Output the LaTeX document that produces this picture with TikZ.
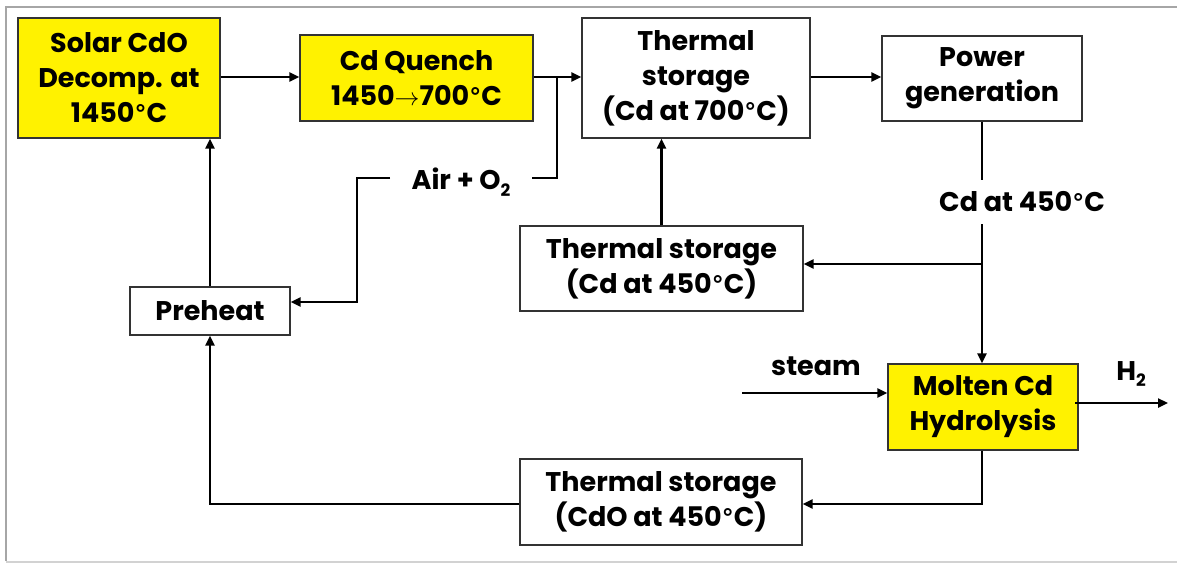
\documentclass[tikz,border=0pt]{standalone}
\usepackage{fontspec}
\setmainfont{Poppins}
\newfontfamily\dvfont{DejaVu Sans}
\usetikzlibrary{arrows.meta}
\newcommand{\lowsub}[1]{\raisebox{-0.45ex}{\fontsize{17}{17}\selectfont #1}}
\newcommand{\dgC}{{\dvfont\fontsize{24}{24}\selectfont °}C}
\begin{document}
\begin{tikzpicture}[x=1pt,y=-1pt,
  box/.style={draw=black!80,line width=1.2pt,inner sep=0pt,align=center,
    font=\fontsize{27}{35}\selectfont\bfseries},
  ybox/.style={box,fill=yellow},
  lbl/.style={inner sep=0pt,font=\fontsize{27}{35}\selectfont\bfseries},
  arr/.style={line width=2.3pt,-{Triangle[length=10pt,width=9pt]}},
  ln/.style={line width=2.3pt}]
\useasboundingbox (0,0) rectangle (1177,563);
\draw[gray!70,line width=2.5pt] (1177,7) -- (6,7) -- (6,561);
\draw[gray!35,line width=1.5pt] (6,562) -- (1177,562);
% boxes
\node[ybox,minimum width=202pt,minimum height=120pt] (solar) at (119,78) {Solar CdO\\Decomp. at\\1450\dgC};
\node[ybox,minimum width=233pt,minimum height=86pt] (quench) at (416.5,78) {Cd Quench\\1450$\rightarrow$700\dgC};
\node[box,minimum width=228pt,minimum height=120pt] (ts7) at (696,78) {Thermal\\storage\\(Cd at 700\dgC)};
\node[box,minimum width=200pt,minimum height=85pt] (power) at (982,78.5) {Power\\generation};
\node[box,minimum width=283pt,minimum height=85pt] (ts4) at (661.5,268.5) {Thermal storage\\(Cd at 450\dgC)};
\node[box,minimum width=160pt,minimum height=48pt] (pre) at (210,311) {Preheat};
\node[ybox,minimum width=190pt,minimum height=86pt] (molten) at (983,407) {Molten Cd\\Hydrolysis};
\node[box,minimum width=282pt,minimum height=86pt] (ts5) at (661,502) {Thermal storage\\(CdO at 450\dgC)};
% labels
\node[lbl] (air) at (461,182) {Air + O\lowsub{2}};
\node[lbl] (cd450) at (1022,202) {Cd at 450\dgC};
\node[lbl] (steam) at (816,366) {steam};
\node[lbl] (h2) at (1131,374) {H\lowsub{2}};
\coordinate (jq) at (557,77);
\coordinate (steamin) at (742,393);
\coordinate (h2out) at (1168,403);
\coordinate (jc) at (982,264);
% connectors
\draw[arr] (solar.east |- 0,77) -- (quench.west |- 0,77);
\draw[arr] (quench.east |- 0,77) -- (ts7.west |- 0,77);
\draw[ln] (jq) -- (557,178) -- (532,178);
\draw[arr] (390,178) -- (357,178) -- (357,302) -- (pre.east |- 0,302);
\draw[arr] (ts7.east |- 0,77) -- (power.west |- 0,77);
\draw[arr] (ts4.north) -- (ts7.south -| ts4.north);
\draw[ln] (power.south) -- (982,180);
\draw[arr] (982,224) -- (molten.north -| 982,0);
\draw[arr] (jc) -- (ts4.east |- jc);
\draw[arr] (steamin) -- (molten.west |- steamin);
\draw[arr] (1075,403) -- (h2out);
\draw[arr] (molten.south -| 982,0) -- (982,504) -- (ts5.east |- 0,504);
\draw[arr] (ts5.west |- 0,504) -- (210,504) -- (pre.south);
\draw[arr] (pre.north) -- (solar.south -| pre.north);
\end{tikzpicture}
\end{document}
